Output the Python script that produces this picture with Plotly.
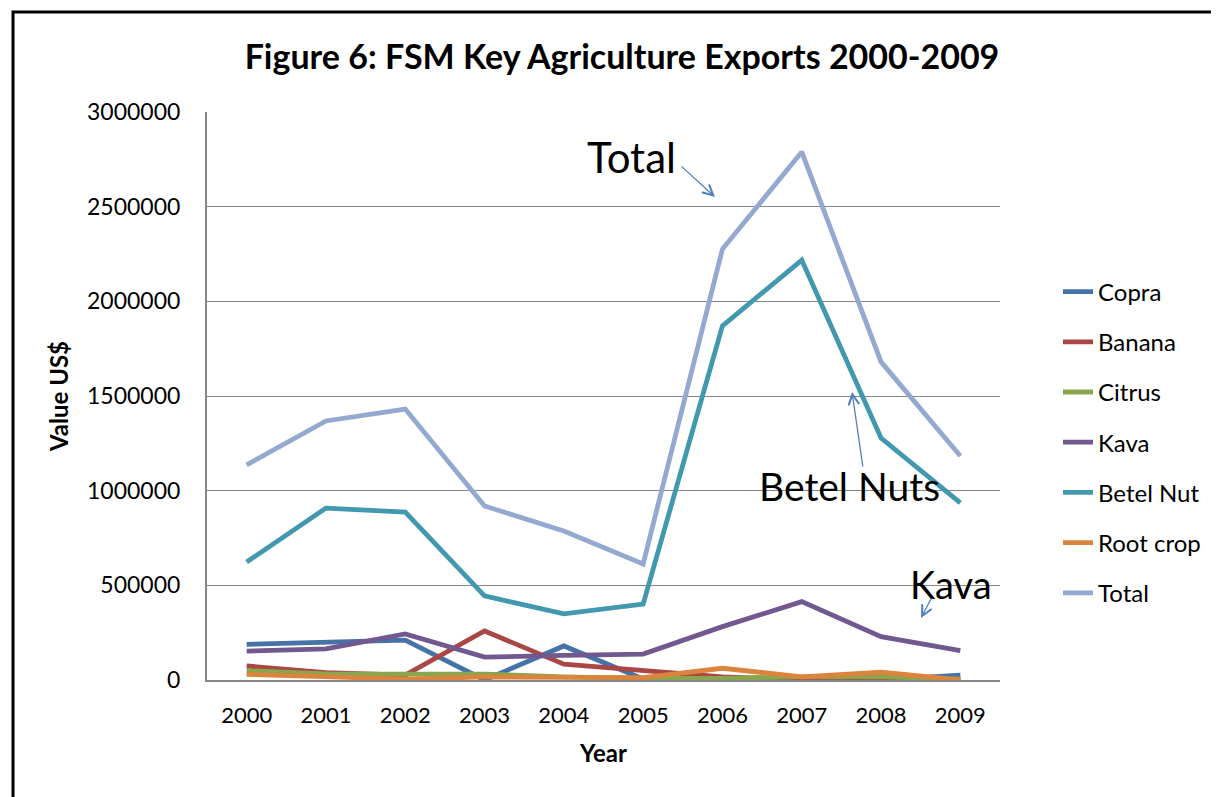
import plotly.graph_objects as go

years = [2000, 2001, 2002, 2003, 2004, 2005, 2006, 2007, 2008, 2009]
copra = [188000, 199000, 211000, 0, 180000, 5000, 0, 0, 0, 25000]
banana = [74000, 39000, 26000, 259000, 84000, 49000, 17000, 0, 0, 0]
citrus = [49000, 32000, 31000, 31000, 17000, 9000, 9000, 17000, 17000, 4000]
kava = [153000, 164000, 243000, 121000, 130000, 137000, 282000, 414000, 229000, 155000]
betel_nut = [623000, 908000, 887000, 444000, 349000, 401000, 1870000, 2218000, 1278000, 935000]
root_crop = [30000, 18000, 5000, 16000, 17000, 13000, 62000, 17000, 41000, 0]
total = [1136000, 1368000, 1431000, 919000, 787000, 613000, 2276000, 2789000, 1680000, 1183000]

series_names = ["Copra", "Banana", "Citrus", "Kava", "Betel Nut", "Root crop", "Total"]
series_values = [copra, banana, citrus, kava, betel_nut, root_crop, total]
colors = ["#4572A7", "#AA4643", "#89A54E", "#71588F", "#4198AF", "#DB843D", "#93A9CF"]

y_ticks = [0, 500000, 1000000, 1500000, 2000000, 2500000, 3000000]

FONT = "Lato"
# page body has an 8px margin; figure sized so plot sits where the reference has it
OFF = 8
W, H = 1219 - OFF, 797 - OFF

fig = go.Figure()
for name, vals, col in zip(series_names, series_values, colors):
    fig.add_trace(go.Scatter(
        x=years, y=vals, name=name, mode="lines",
        line=dict(color=col, width=4.8),
        legendgroup=name,
    ))

callouts = [
    dict(text="Total", x=2004.85, y=2760000, size=42),
    dict(text="Betel Nuts", x=2007.6, y=1025000, size=39),
    dict(text="Kava", x=2008.88, y=505000, size=38),
]
arrows = [
    dict(x=2005.906, y=2551000, ax=-35, ay=-32),
    dict(x=2007.634, y=1521000, ax=11, ay=76),
    dict(x=2008.504, y=327500, ax=11, ay=-21),
]
annotations = []
for c in callouts:
    annotations.append(dict(
        x=c["x"], y=c["y"], xref="x", yref="y", text=c["text"], showarrow=False,
        font=dict(family=FONT, size=c["size"], color="black"),
        xanchor="center", yanchor="middle",
    ))
for a in arrows:
    annotations.append(dict(
        x=a["x"], y=a["y"], xref="x", yref="y", text="", showarrow=True,
        ax=a["ax"], ay=a["ay"], arrowhead=5, arrowsize=1.6, arrowwidth=1.3,
        arrowcolor="#4F81BD", standoff=0, startstandoff=0,
    ))

fig.update_layout(
    width=W, height=H, autosize=False,
    margin=dict(l=207 - OFF, r=219, t=112 - OFF, b=117),
    paper_bgcolor="white", plot_bgcolor="white",
    font=dict(family=FONT, size=22, color="black"),
    title=dict(
        text="<b>Figure 6: FSM Key Agriculture Exports 2000-2009</b>",
        font=dict(family=FONT, size=34, color="black"),
        x=(622 - OFF) / W, xref="container", xanchor="center",
        y=1 - (57 - OFF) / H, yref="container", yanchor="middle",
    ),
    xaxis=dict(
        range=[1999.5, 2009.5], tickvals=years, ticktext=[str(y) for y in years],
        showgrid=False, zeroline=False,
        showline=True, linecolor="#868686", linewidth=2,
        ticks="", ticklabelstandoff=15,
        tickfont=dict(family=FONT, size=22),
        title=dict(text="<b>Year</b>", font=dict(family=FONT, size=24), standoff=18),
    ),
    yaxis=dict(
        range=[0, 3000000], tickvals=y_ticks, tickformat="d",
        showgrid=True, gridcolor="#868686", gridwidth=1.3,
        zeroline=False, showline=True, linecolor="#868686", linewidth=2,
        ticks="", ticklabelstandoff=20,
        tickfont=dict(family=FONT, size=23),
        title=dict(text="<b>Value US$</b>", font=dict(family=FONT, size=24), standoff=12),
    ),
    legend=dict(
        x=(1058 - OFF) / W, xref="container", xanchor="left",
        y=1 - (442.5 - OFF) / H, yref="container", yanchor="middle",
        font=dict(family=FONT, size=24), tracegroupgap=16,
        bgcolor="rgba(0,0,0,0)",
    ),
    annotations=annotations,
    shapes=[dict(
        type="rect", xref="paper", yref="paper",
        x0=(13 - 207) / 793, x1=(1240 - 207) / 793,
        y0=(680 - 820) / 568, y1=(680 - 12) / 568,
        line=dict(color="black", width=3), layer="above",
    )],
)

fig.write_html("out.html")
